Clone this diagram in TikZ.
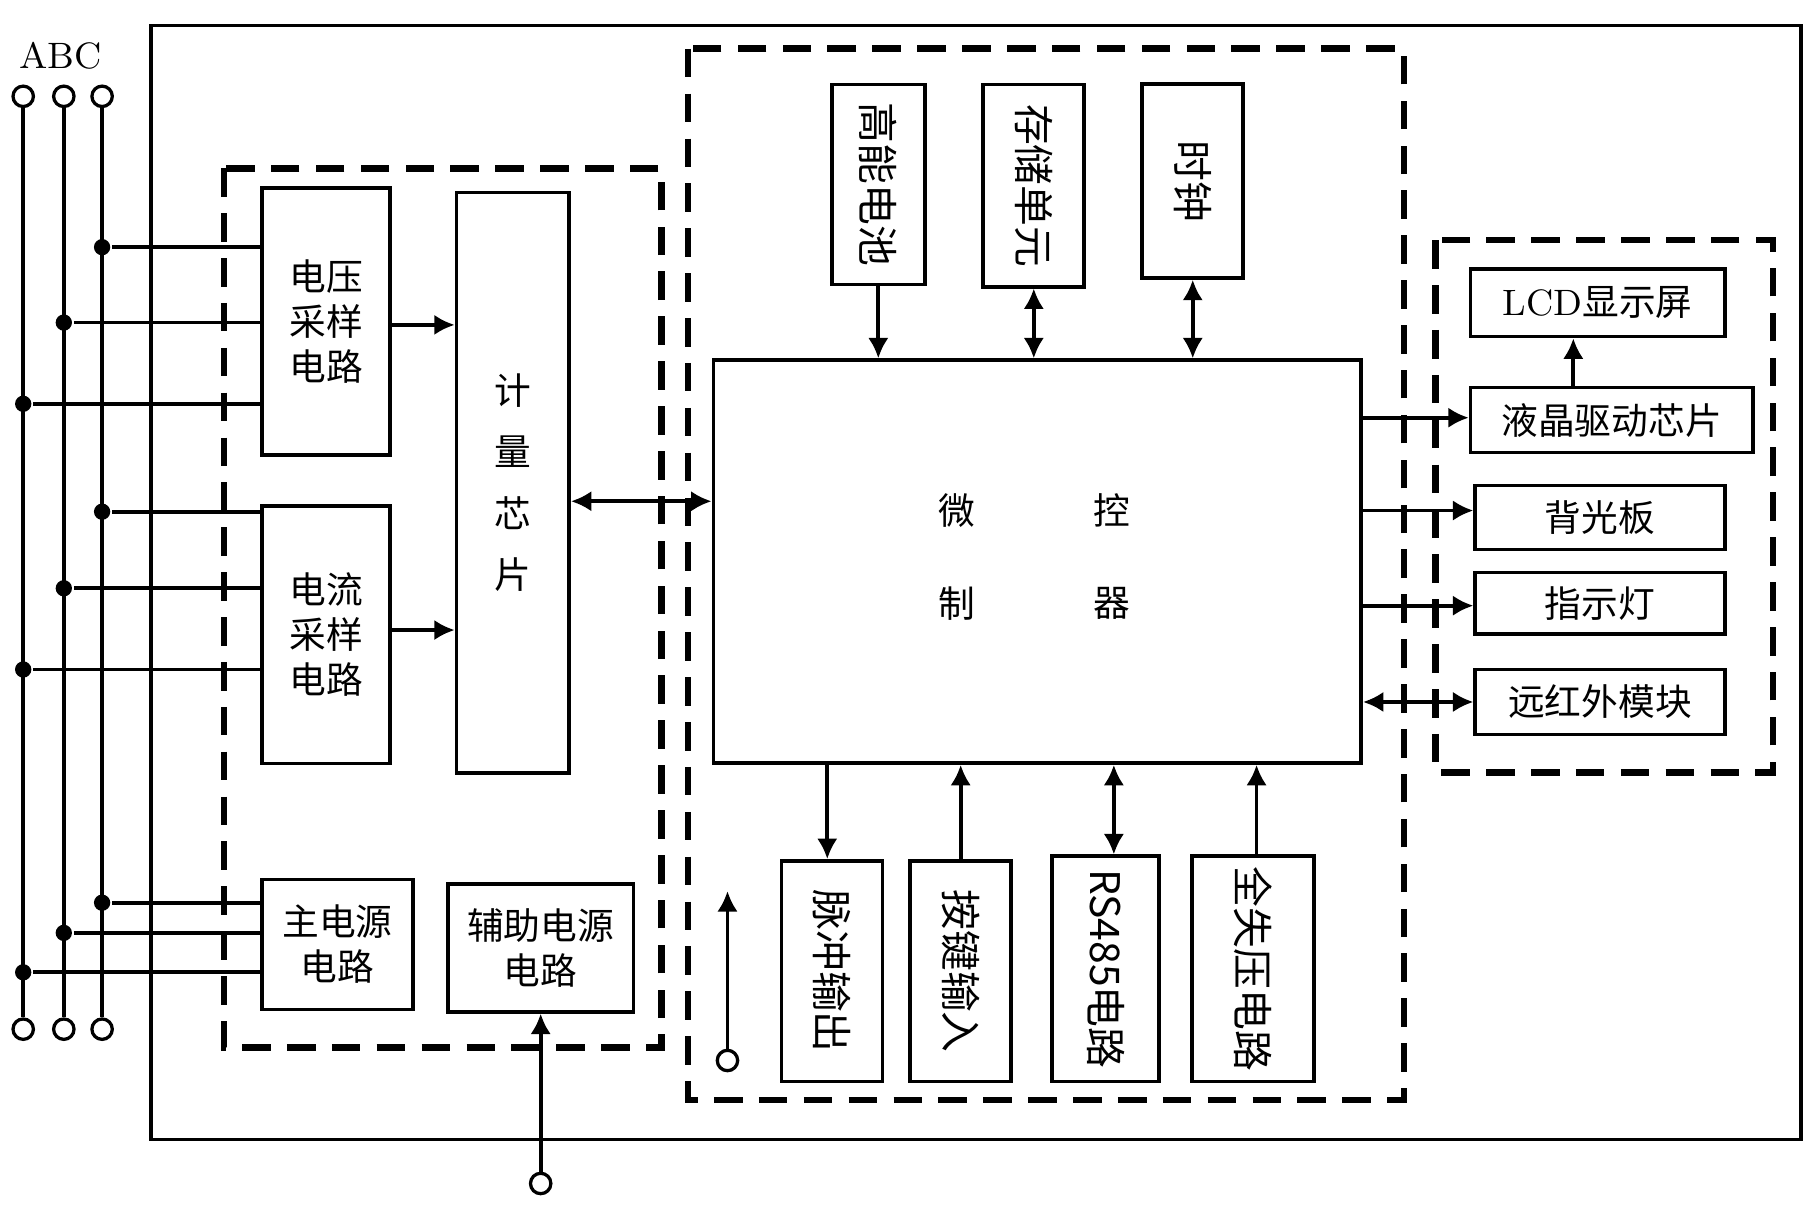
\documentclass[tikz,border=0pt]{standalone}
\usepackage{fontspec}
\newfontfamily\cjk{Noto Sans CJK SC}
\usetikzlibrary{arrows.meta}

\begin{document}
\begin{tikzpicture}[x=0.01cm, y=-0.01cm, line width=0.9pt, font=\cjk\fontsize{9}{11}\selectfont]
  \tikzstyle{box}=[draw, rectangle, inner sep=0pt, align=center]
  \tikzstyle{dbox}=[draw, dashed, line width=1.6pt, dash pattern=on 7pt off 4pt]
  \tikzstyle{arrow}=[-{Latex[length=5pt,width=5pt]}]
  \tikzstyle{darrow}=[{Latex[length=5pt,width=5pt]}-{Latex[length=5pt,width=5pt]}]
  \tikzstyle{term}=[circle, draw, fill=white, inner sep=0pt, minimum size=5pt, line width=0.8pt]
  \tikzstyle{dot}=[circle, fill, inner sep=0pt, minimum size=4pt]
  \tikzstyle{vtxt}=[box, font=\cjk\fontsize{10}{11}\selectfont]

  \useasboundingbox (0,0) rectangle (1560,1050);
  \draw (130,22) rectangle (1552,982);
  \draw[dbox] (193,145) rectangle (570,903);
  \draw[dbox] (593,42) rectangle (1210,948);
  \draw[dbox] (1237,207) rectangle (1528,666);

  % phase lines
  \node (abc) at (52,48) {\rmfamily ABC};
  \foreach \p/\x in {A/20, B/55, C/88}{
    \node[term] (top-\p) at (\x,83) {};
    \node[term] (bot-\p) at (\x,887) {};
    \draw (top-\p) -- (bot-\p);
  }

  % metering part
  \node[box, minimum width=1.1cm, minimum height=2.3cm] (vs) at (281,277) {电压\\采样\\电路};
  \node[box, minimum width=1.1cm, minimum height=2.22cm] (cs) at (281,547) {电流\\采样\\电路};
  \node[box, minimum width=0.97cm, minimum height=5cm] (meter) at (442,416) {计\\[4pt]量\\[4pt]芯\\[4pt]片};
  \node[box, minimum width=1.3cm, minimum height=1.12cm] (mps) at (291,814) {主电源\\电路};
  \node[box, minimum width=1.6cm, minimum height=1.1cm] (aps) at (466,817) {辅助电源\\电路};
  \node[term] (aux-in) at (466,1020) {};
  \draw[arrow] (aux-in) -- (aps);

  \foreach \p/\x/\y/\b in {C/88/213/vs, B/55/278/vs, A/20/348/vs, C/88/441/cs, B/55/507/cs, A/20/577/cs, C/88/778/mps, B/55/804/mps, A/20/838/mps}{
    \node[dot] (j-\b-\p) at (\x,\y) {};
    \draw (j-\b-\p) -- (\b.west |- j-\b-\p);
  }
  \draw[arrow] (vs.east |- 0,280) -- (meter.west |- 0,280);
  \draw[arrow] (cs.east |- 0,543) -- (meter.west |- 0,543);

  % controller
  \node[box, minimum width=5.58cm, minimum height=3.47cm] (mcu) at (894,484) {};
  \node (m1) at (825,440) {微};
  \node (m2) at (958,440) {控};
  \node (m3) at (825,520) {制};
  \node (m4) at (958,520) {器};
  \draw[darrow] (meter.east |- 0,432) -- (mcu.west |- 0,432);

  \node[vtxt, minimum width=0.8cm, minimum height=1.72cm] (bat) at (757,159) {\rotatebox{-90}{高能电池}};
  \node[vtxt, minimum width=0.87cm, minimum height=1.74cm] (mem) at (891,160) {\rotatebox{-90}{存储单元}};
  \node[vtxt, minimum width=0.87cm, minimum height=1.67cm] (clk) at (1028,156) {\rotatebox{-90}{时钟}};
  \draw[arrow] (bat) -- (bat |- mcu.north);
  \draw[darrow] (mem) -- (mem |- mcu.north);
  \draw[darrow] (clk) -- (clk |- mcu.north);

  \node[vtxt, minimum width=0.87cm, minimum height=1.9cm] (pulse) at (717,837) {\rotatebox{-90}{脉冲输出}};
  \node[vtxt, minimum width=0.87cm, minimum height=1.9cm] (key) at (828,837) {\rotatebox{-90}{按键输入}};
  \node[vtxt, minimum width=0.92cm, minimum height=1.94cm] (rs) at (953,835) {\rotatebox{-90}{RS485电路}};
  \node[vtxt, minimum width=1.05cm, minimum height=1.94cm] (loss) at (1080,835) {\rotatebox{-90}{全失压电路}};
  \draw[arrow] (mcu.south -| 713,0) -- (pulse.north -| 713,0);
  \draw[arrow] (key) -- (key |- mcu.south);
  \draw[darrow] (rs.north -| 960,0) -- (mcu.south -| 960,0);
  \draw[arrow] (loss.north -| 1083,0) -- (mcu.south -| 1083,0);
  \node[term] (pin) at (627,914) {};
  \coordinate (pin-up) at (627,768);
  \draw[arrow] (pin) -- (pin-up);

  % display part
  \node[box, minimum width=2.19cm, minimum height=0.58cm] (lcd) at (1377,261) {\rmfamily LCD\cjk 显示屏};
  \node[box, minimum width=2.43cm, minimum height=0.56cm] (drv) at (1389,362) {液晶驱动芯片};
  \node[box, minimum width=2.15cm, minimum height=0.55cm] (bl) at (1379,446) {背光板};
  \node[box, minimum width=2.15cm, minimum height=0.53cm] (led) at (1379,520) {指示灯};
  \node[box, minimum width=2.15cm, minimum height=0.56cm] (ir) at (1379,605) {远红外模块};
  \draw[arrow] (drv.north -| 1356,0) -- (lcd.south -| 1356,0);
  \draw[arrow] (mcu.east |- 0,360) -- (drv.west |- 0,360);
  \draw[arrow] (mcu.east |- 0,440) -- (bl.west |- 0,440);
  \draw[arrow] (mcu.east |- 0,522) -- (led.west |- 0,522);
  \draw[darrow] (mcu.east |- 0,605) -- (ir.west |- 0,605);
\end{tikzpicture}
\end{document}
